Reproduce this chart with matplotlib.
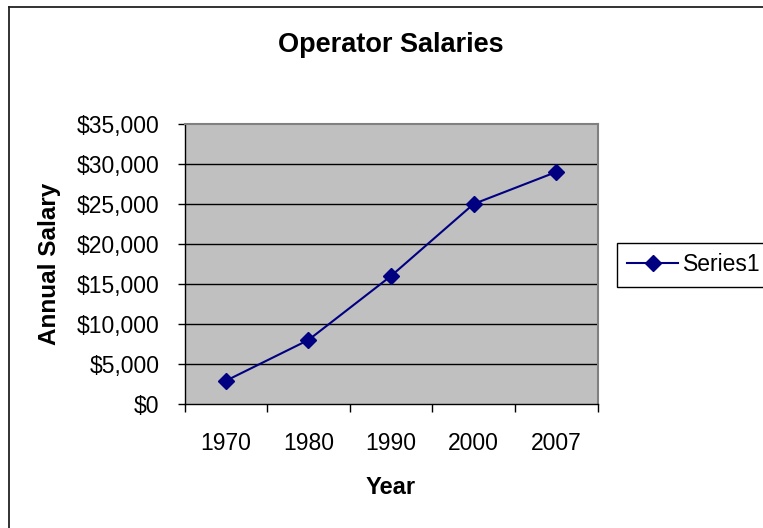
import matplotlib
matplotlib.use("Agg")
import matplotlib.pyplot as plt
from matplotlib.lines import Line2D
from matplotlib.ticker import FuncFormatter

years = ["1970", "1980", "1990", "2000", "2007"]
salaries = [2900, 8000, 16000, 25000, 29000]
series_name = "Series1"
y_ticks = [0, 5000, 10000, 15000, 20000, 25000, 30000, 35000]

plt.rcParams["font.family"] = ["Liberation Sans", "DejaVu Sans"]

W, H = 763, 528
fig = plt.figure(figsize=(W / 100, H / 100), dpi=100)

# plot area, in pixels of the reference
left, right, top, bottom = 184.5, 597.5, 124.0, 404.0
ax = fig.add_axes((left / W, 1 - bottom / H, (right - left) / W, (bottom - top) / H))
ax.set_facecolor("#c0c0c0")

x = list(range(len(years)))
line, = ax.plot(x, salaries, color="#000080", lw=1.5, marker="D", ms=8.5,
                markerfacecolor="#000080", markeredgecolor="#000080", zorder=3)

ax.set_xlim(-0.5, len(years) - 0.5)
ax.set_ylim(0, 35000)
ax.set_yticks(y_ticks)
ax.yaxis.set_major_formatter(FuncFormatter(lambda v, p: f"${v:,.0f}"))
ax.tick_params(axis="y", direction="out", length=5, width=1, pad=13, labelsize=16.5)
for v in y_ticks[1:-1]:
    ax.axhline(v, color="black", lw=1, zorder=1)

# tick marks between categories, labels centred under points
ax.set_xticks([i - 0.5 for i in range(len(years) + 1)])
ax.set_xticklabels([])
ax.set_xticks(x, minor=True)
ax.set_xticklabels(years, minor=True)
ax.tick_params(axis="x", which="major", direction="out", length=6, width=1)
ax.tick_params(axis="x", which="minor", length=0, pad=20, labelsize=16.5)

for side in ("top", "right"):
    ax.spines[side].set_color("#808080")
    ax.spines[side].set_linewidth(1.5)
for side in ("left", "bottom"):
    ax.spines[side].set_color("black")
    ax.spines[side].set_linewidth(1)

fig.text(391 / W, 1 - 45 / H, "Operator Salaries", ha="center", va="center",
         fontsize=19.5, fontweight="bold")
fig.text(391 / W, 1 - 487 / H, "Year", ha="center", va="center",
         fontsize=17, fontweight="bold")
fig.text(50 / W, 1 - 264 / H, "Annual Salary", ha="center", va="center",
         rotation=90, fontsize=17.5, fontweight="bold")

leg = fig.legend([line], [series_name], loc="upper left",
                 bbox_to_anchor=(617 / W, 1 - 243 / H), fontsize=16.5,
                 numpoints=1, handlelength=2.2, handletextpad=0.25,
                 borderpad=0.45, borderaxespad=0, fancybox=False,
                 edgecolor="black", framealpha=1)
leg.get_frame().set_linewidth(1)

# outer chart border (left and top visible)
fig.add_artist(Line2D([8.5 / W, 8.5 / W], [0, 1 - 6.5 / H], color="#222222", lw=1.3))
fig.add_artist(Line2D([8.5 / W, 1], [1 - 6.5 / H, 1 - 6.5 / H], color="#222222", lw=1.3))

fig.savefig("out.png", dpi=100)
